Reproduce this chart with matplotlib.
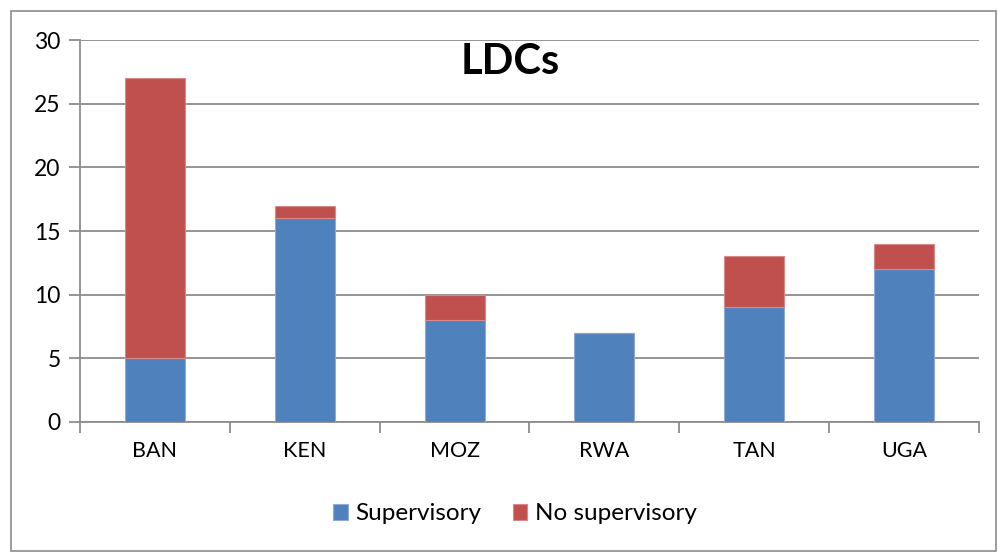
import matplotlib
matplotlib.use("Agg")
import matplotlib.pyplot as plt
from matplotlib.patches import Rectangle

categories = ["BAN", "KEN", "MOZ", "RWA", "TAN", "UGA"]
supervisory = [5, 16, 8, 7, 9, 12]
no_supervisory = [22, 1, 2, 0, 4, 2]
yticks = [0, 5, 10, 15, 20, 25, 30]

plt.rcParams['font.family'] = ['Lato', 'DejaVu Sans']

W, H = 998, 556
fig = plt.figure(figsize=(W / 100, H / 100), dpi=100)
fig.patch.set_facecolor("white")

# outer border
fig.patches.append(Rectangle((11 / W, 1 - 551 / H), (996 - 11) / W, (551 - 11) / H,
                             transform=fig.transFigure, fill=False,
                             edgecolor="#8c8c8c", linewidth=1.2))

left, right, top, bottom = 80, 979, 40, 422
ax = fig.add_axes([left / W, 1 - bottom / H, (right - left) / W, (bottom - top) / H])

x = list(range(len(categories)))
blue = "#4F81BD"
red = "#C0504D"
ax.bar(x, supervisory, width=0.4, color=blue, edgecolor="#8FAAD6", linewidth=0.8,
       label="Supervisory", zorder=3)
ax.bar(x, no_supervisory, width=0.4, bottom=supervisory, color=red,
       edgecolor="#D98A88", linewidth=0.8, label="No supervisory", zorder=3)

ax.set_xlim(-0.5, len(categories) - 0.5)
ax.set_ylim(0, 30)
ax.set_yticks(yticks)
ax.set_yticklabels([str(v) for v in yticks], fontsize=16.5)
ax.set_xticks(x)
ax.set_xticklabels(categories, fontsize=15.5)
ax.tick_params(axis='x', length=0, pad=14)
ax.set_xticks([i - 0.5 for i in range(len(categories) + 1)], minor=True)
ax.tick_params(axis='x', which='minor', length=8, width=1.3, color="#8c8c8c", direction='out')
ax.tick_params(axis='y', length=8, width=1.3, color="#8c8c8c", pad=6)

ax.grid(axis='y', color="#8c8c8c", linewidth=1.3, zorder=0)
ax.set_axisbelow(True)
for s in ["top", "right"]:
    ax.spines[s].set_visible(False)
for s in ["left", "bottom"]:
    ax.spines[s].set_color("#8c8c8c")
    ax.spines[s].set_linewidth(1.3)

fig.text(510 / W, 1 - 62 / H, "LDCs", fontsize=30, fontweight='bold',
         ha='center', va='center')

handles, labels = ax.get_legend_handles_labels()
leg = fig.legend(handles, labels, loc='center', bbox_to_anchor=(515 / W, 1 - 514 / H),
                 ncol=2, frameon=False, fontsize=17.5, handlelength=0.6, handleheight=0.6,
                 handletextpad=0.3, columnspacing=1.3)

fig.savefig("out.png", dpi=100)
